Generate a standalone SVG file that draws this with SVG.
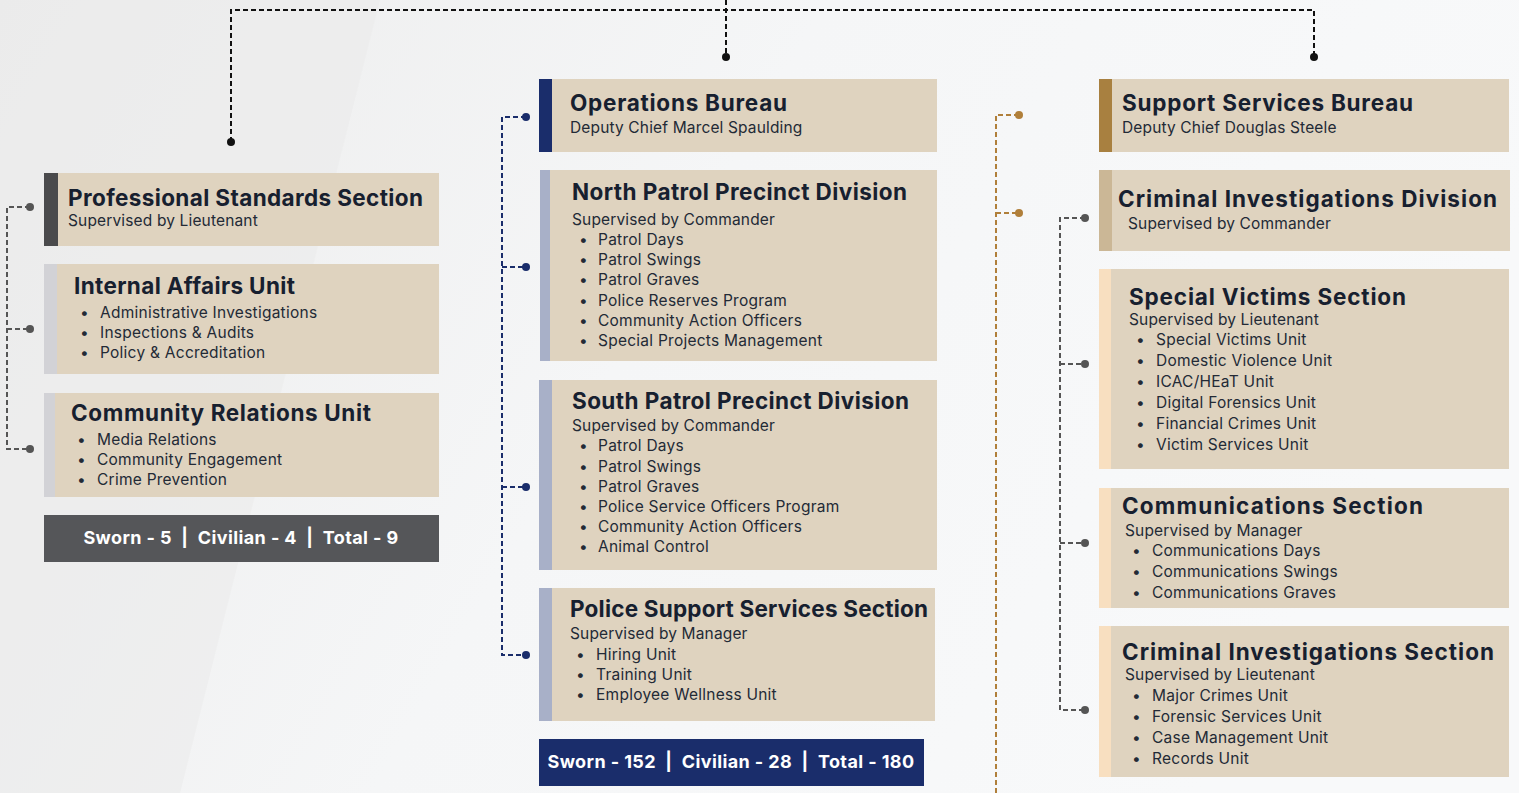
<svg xmlns="http://www.w3.org/2000/svg" width="1519" height="793" viewBox="0 0 1519 793">
<defs>
<linearGradient id="bg" x1="0" y1="0" x2="1" y2="0.3">
<stop offset="0" stop-color="#ececec"/>
<stop offset="0.5" stop-color="#f5f6f7"/>
<stop offset="1" stop-color="#f8f9fa"/>
</linearGradient>
<style>
.box{fill:#dfd3bf}
.t{font-family:Inter,"Open Sans",sans-serif;font-weight:700;font-size:22.5px;fill:#17202f}
.s{font-family:Inter,"Open Sans",sans-serif;font-weight:400;font-size:15.5px;letter-spacing:0.15px;fill:#232a36}
.b{font-family:Inter,"Open Sans",sans-serif;font-weight:400;font-size:15.5px;letter-spacing:0.25px;fill:#232a36}
.f{font-family:Inter,"Open Sans",sans-serif;font-weight:700;font-size:18px;letter-spacing:0.4px;fill:#ffffff;white-space:pre}
.cb{fill:none;stroke:#111;stroke-width:2;stroke-dasharray:5 3}
.cg{fill:none;stroke:#555;stroke-width:2;stroke-dasharray:5 3}
.cn{fill:none;stroke:#1a2d6b;stroke-width:2;stroke-dasharray:5 3}
.co{fill:none;stroke:#b07f3a;stroke-width:2;stroke-dasharray:5 3}
</style>
</defs>
<rect width="1519" height="793" fill="url(#bg)"/>
<polygon points="0,0 380,0 180,793 0,793" fill="#ebebeb" opacity="0.6"/>

<g id="connectors">
<path class="cb" d="M231,142 V10 H1314 V57"/>
<path class="cb" d="M726,0 V57"/>
<circle cx="231" cy="142" r="4" fill="#111"/>
<circle cx="726" cy="57" r="4" fill="#111"/>
<circle cx="1314" cy="57" r="4" fill="#111"/>

<path class="cg" d="M30,207 H7 V449 H30 M7,329 H30"/>
<circle cx="30" cy="207" r="4" fill="#555"/>
<circle cx="30" cy="329" r="4" fill="#555"/>
<circle cx="30" cy="449" r="4" fill="#555"/>

<path class="cn" d="M526,117 H502 V655 H526 M502,267 H526 M502,487 H526"/>
<circle cx="526" cy="117" r="4" fill="#1a2d6b"/>
<circle cx="526" cy="267" r="4" fill="#1a2d6b"/>
<circle cx="526" cy="487" r="4" fill="#1a2d6b"/>
<circle cx="526" cy="655" r="4" fill="#1a2d6b"/>

<path class="co" d="M1019,115 H996 V793 M996,213 H1019"/>
<circle cx="1019" cy="115" r="4" fill="#b07f3a"/>
<circle cx="1019" cy="213" r="4" fill="#b07f3a"/>

<path class="cg" d="M1085,218 H1060 V710 H1085 M1060,364 H1085 M1060,543 H1085"/>
<circle cx="1085" cy="218" r="4" fill="#555"/>
<circle cx="1085" cy="364" r="4" fill="#555"/>
<circle cx="1085" cy="543" r="4" fill="#555"/>
<circle cx="1085" cy="710" r="4" fill="#555"/>
</g>

<g id="professional-standards">
<rect class="box" x="44" y="173" width="395" height="73"/>
<rect x="44" y="173" width="14" height="73" fill="#4a4a4c"/>
<text class="t" x="68" y="206" textLength="355">Professional Standards Section</text>
<text class="s" x="68" y="226">Supervised by Lieutenant</text>
</g>

<g id="internal-affairs">
<rect class="box" x="44" y="264" width="395" height="110"/>
<rect x="44" y="264" width="13" height="110" fill="#d2d2d6"/>
<text class="t" x="74" y="294" textLength="221">Internal Affairs Unit</text>
<text class="b" x="80" y="318">•</text><text class="b" x="100" y="318">Administrative Investigations</text>
<text class="b" x="80" y="338">•</text><text class="b" x="100" y="338">Inspections &amp; Audits</text>
<text class="b" x="80" y="358">•</text><text class="b" x="100" y="358">Policy &amp; Accreditation</text>
</g>

<g id="community-relations">
<rect class="box" x="44" y="393" width="395" height="104"/>
<rect x="44" y="393" width="11" height="104" fill="#d2d2d6"/>
<text class="t" x="71" y="421" textLength="300">Community Relations Unit</text>
<text class="b" x="77" y="445">•</text><text class="b" x="97" y="445">Media Relations</text>
<text class="b" x="77" y="465">•</text><text class="b" x="97" y="465">Community Engagement</text>
<text class="b" x="77" y="485">•</text><text class="b" x="97" y="485">Crime Prevention</text>
</g>

<g id="left-totals">
<rect x="44" y="515" width="395" height="47" fill="#555659"/>
<text class="f" x="241" y="544" text-anchor="middle" xml:space="preserve">Sworn - 5  |  Civilian - 4  |  Total - 9</text>
</g>

<g id="operations-bureau">
<rect class="box" x="539" y="79" width="398" height="73"/>
<rect x="539" y="79" width="13" height="73" fill="#1a2d6b"/>
<text class="t" x="570" y="111" textLength="217">Operations Bureau</text>
<text class="s" x="570" y="133">Deputy Chief Marcel Spaulding</text>
</g>

<g id="north-patrol">
<rect class="box" x="540" y="170" width="397" height="191"/>
<rect x="540" y="170" width="10" height="191" fill="#a8b0c8"/>
<text class="t" x="572" y="200" textLength="335">North Patrol Precinct Division</text>
<text class="s" x="572" y="225">Supervised by Commander</text>
<text class="b" x="579" y="245">•</text><text class="b" x="598" y="245">Patrol Days</text>
<text class="b" x="579" y="265">•</text><text class="b" x="598" y="265">Patrol Swings</text>
<text class="b" x="579" y="285">•</text><text class="b" x="598" y="285">Patrol Graves</text>
<text class="b" x="579" y="306">•</text><text class="b" x="598" y="306">Police Reserves Program</text>
<text class="b" x="579" y="326">•</text><text class="b" x="598" y="326">Community Action Officers</text>
<text class="b" x="579" y="346">•</text><text class="b" x="598" y="346">Special Projects Management</text>
</g>

<g id="south-patrol">
<rect class="box" x="539" y="380" width="398" height="190"/>
<rect x="539" y="380" width="13" height="190" fill="#a8b0c8"/>
<text class="t" x="572" y="409" textLength="337">South Patrol Precinct Division</text>
<text class="s" x="572" y="431">Supervised by Commander</text>
<text class="b" x="579" y="451">•</text><text class="b" x="598" y="451">Patrol Days</text>
<text class="b" x="579" y="472">•</text><text class="b" x="598" y="472">Patrol Swings</text>
<text class="b" x="579" y="492">•</text><text class="b" x="598" y="492">Patrol Graves</text>
<text class="b" x="579" y="512">•</text><text class="b" x="598" y="512">Police Service Officers Program</text>
<text class="b" x="579" y="532">•</text><text class="b" x="598" y="532">Community Action Officers</text>
<text class="b" x="579" y="552">•</text><text class="b" x="598" y="552">Animal Control</text>
</g>

<g id="police-support-services">
<rect class="box" x="539" y="588" width="396" height="133"/>
<rect x="539" y="588" width="13" height="133" fill="#a8b0c8"/>
<text class="t" x="570" y="617" textLength="358">Police Support Services Section</text>
<text class="s" x="570" y="639">Supervised by Manager</text>
<text class="b" x="576" y="660">•</text><text class="b" x="596" y="660">Hiring Unit</text>
<text class="b" x="576" y="680">•</text><text class="b" x="596" y="680">Training Unit</text>
<text class="b" x="576" y="700">•</text><text class="b" x="596" y="700">Employee Wellness Unit</text>
</g>

<g id="middle-totals">
<rect x="539" y="739" width="385" height="47" fill="#1a2d6b"/>
<text class="f" x="731" y="768" text-anchor="middle" xml:space="preserve">Sworn - 152  |  Civilian - 28  |  Total - 180</text>
</g>

<g id="support-services-bureau">
<rect class="box" x="1099" y="79" width="410" height="73"/>
<rect x="1099" y="79" width="13" height="73" fill="#a88040"/>
<text class="t" x="1122" y="111" textLength="291">Support Services Bureau</text>
<text class="s" x="1122" y="133">Deputy Chief Douglas Steele</text>
</g>

<g id="criminal-investigations-division">
<rect class="box" x="1099" y="170" width="411" height="81"/>
<rect x="1099" y="170" width="13" height="81" fill="#cbb796"/>
<text class="t" x="1118" y="207" textLength="379">Criminal Investigations Division</text>
<text class="s" x="1128" y="229">Supervised by Commander</text>
</g>

<g id="special-victims">
<rect class="box" x="1099" y="269" width="410" height="200"/>
<rect x="1099" y="269" width="12" height="200" fill="#f8dfc0"/>
<text class="t" x="1129" y="305" textLength="277">Special Victims Section</text>
<text class="s" x="1129" y="325">Supervised by Lieutenant</text>
<text class="b" x="1136" y="345">•</text><text class="b" x="1156" y="345">Special Victims Unit</text>
<text class="b" x="1136" y="366">•</text><text class="b" x="1156" y="366">Domestic Violence Unit</text>
<text class="b" x="1136" y="387">•</text><text class="b" x="1156" y="387">ICAC/HEaT Unit</text>
<text class="b" x="1136" y="408">•</text><text class="b" x="1156" y="408">Digital Forensics Unit</text>
<text class="b" x="1136" y="429">•</text><text class="b" x="1156" y="429">Financial Crimes Unit</text>
<text class="b" x="1136" y="450">•</text><text class="b" x="1156" y="450">Victim Services Unit</text>
</g>

<g id="communications">
<rect class="box" x="1099" y="488" width="410" height="120"/>
<rect x="1099" y="488" width="12" height="120" fill="#f8dfc0"/>
<text class="t" x="1122" y="514" textLength="301">Communications Section</text>
<text class="s" x="1125" y="536">Supervised by Manager</text>
<text class="b" x="1132" y="556">•</text><text class="b" x="1152" y="556">Communications Days</text>
<text class="b" x="1132" y="577">•</text><text class="b" x="1152" y="577">Communications Swings</text>
<text class="b" x="1132" y="598">•</text><text class="b" x="1152" y="598">Communications Graves</text>
</g>

<g id="criminal-investigations-section">
<rect class="box" x="1099" y="626" width="410" height="151"/>
<rect x="1099" y="626" width="12" height="151" fill="#f8dfc0"/>
<text class="t" x="1122" y="660" textLength="372">Criminal Investigations Section</text>
<text class="s" x="1125" y="680">Supervised by Lieutenant</text>
<text class="b" x="1132" y="701">•</text><text class="b" x="1152" y="701">Major Crimes Unit</text>
<text class="b" x="1132" y="722">•</text><text class="b" x="1152" y="722">Forensic Services Unit</text>
<text class="b" x="1132" y="743">•</text><text class="b" x="1152" y="743">Case Management Unit</text>
<text class="b" x="1132" y="764">•</text><text class="b" x="1152" y="764">Records Unit</text>
</g>
</svg>
